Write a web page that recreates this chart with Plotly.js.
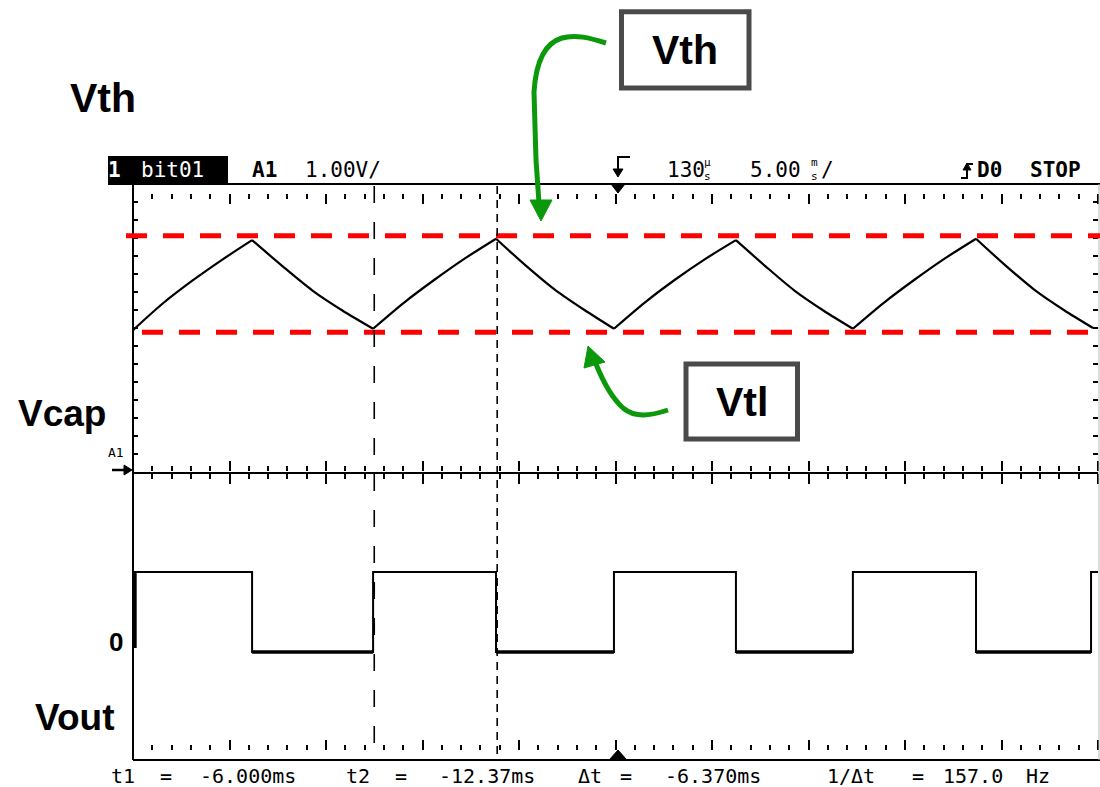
<!DOCTYPE html>
<html><head><meta charset="utf-8">
<script src="https://cdn.plot.ly/plotly-3.0.1.min.js"></script>
<style>html,body{margin:0;padding:0;background:#fff}#chart{width:1100px;height:787px}</style>
</head><body><div id="chart"></div>
<script>
// ---------------- DATA ----------------
// Vcap trace (channel A1, 1.00 V/div), time in ms
const vcapTimeMs = [
  -24.87, -23.33, -21.78, -20.24, -18.70,
  -17.13, -15.57, -14.00, -12.43,
  -10.84, -9.25, -7.65, -6.06,
  -4.53, -3.00, -1.48, 0.05,
  1.63, 3.21, 4.79, 6.37,
  7.89, 9.40, 10.92, 12.43,
  14.03, 15.62, 17.22, 18.81,
  20.33, 21.84, 23.36, 24.87
];
const vcapVolts = [
  1.97, 2.34, 2.66, 2.95, 3.22,
  2.86, 2.52, 2.24, 1.99,
  2.35, 2.67, 2.97, 3.24,
  2.87, 2.53, 2.25, 1.99,
  2.35, 2.67, 2.96, 3.22,
  2.86, 2.52, 2.24, 1.99,
  2.35, 2.67, 2.97, 3.24,
  2.87, 2.53, 2.25, 2.00
];
// indices in the Vcap arrays where the trace turns (valleys / peaks)
const vcapTurnIndex = [0, 4, 8, 12, 16, 20, 24, 28, 32];
// Vout (digital bit01): edge times (ms) and the level after each edge
const voutEdgeTimesMs = [-24.77, -18.70, -12.43, -6.06, 0.05, 6.37, 12.43, 18.81, 24.77];
const voutLevelAfterEdge = [1, 0, 1, 0, 1, 0, 1, 0, 1];
const voutStartLevel = 0.05;
// thresholds (V)
const vthVolts = 3.28;
const vtlVolts = 1.94;
// cursors (ms)
const cursorT1Ms = -6.000;
const cursorT2Ms = -12.37;
// screen time window (ms): 5.00 ms/div, 130 us delay
const timeRangeMs = [-24.87, 25.13];
const timeCenterMs = 0.13;
const msPerDiv = 5;
const voltsPerDiv = 1;
// texts
const headerTokens = ['1', 'bit01', 'A1', '1.00V/', '130', '5.00', '/', 'D0', 'STOP'];
const readoutTokens = ['t1', '=', '-6.000ms', 't2', '=', '-12.37ms', 'Δt', '=', '-6.370ms', '1/Δt', '=', '157.0', 'Hz'];
const sideLabels = ['Vth', 'Vcap', 'Vout', '0'];
const calloutLabels = ['Vth', 'Vtl'];

// ---------------- LAYOUT CONSTANTS (pixels) ----------------
const W = 1100, H = 787;
const fx = x => x / W, fy = y => 1 - y / H;
const plotL = 133, plotR = 1098, topY = 184, midY = 472, botY = 760;
const headerY = 170, readoutY = 776;
const headerCentersPx = [114, 172, 264, 343, 686, 775, 827, 989, 1055];
const headerBold = [true, false, true, false, false, false, false, true, true];
const headerColor = ['#fff', '#fff', '#000', '#000', '#000', '#000', '#000', '#000', '#000'];
const readoutCentersPx = [122.5, 166, 248, 357.5, 401, 486.5, 590, 626, 713, 851, 917.5, 973, 1037.5];
const sideLabelPos = [[103, 98, 41], [62, 413, 37], [74, 717, 37], [116, 642, 26]];
const calloutPos = [[685, 50], [742, 402]];
const mono = 'DejaVu Sans Mono, Liberation Mono, monospace';
const sans = 'Liberation Sans, Arial, sans-serif';
const green = '#0b990b';

// ---------------- TRACES ----------------
const traces = [];
// Vcap: one smooth piece per charge / discharge half-cycle, sharp at the turns
for (let k = 0; k + 1 < vcapTurnIndex.length; k++) {
  const a = vcapTurnIndex[k], b = vcapTurnIndex[k + 1] + 1;
  traces.push({type: 'scatter', mode: 'lines', x: vcapTimeMs.slice(a, b), y: vcapVolts.slice(a, b),
    xaxis: 'x', yaxis: 'y', line: {color: '#000', width: 2.2, shape: 'spline', smoothing: 0.8},
    hoverinfo: 'skip', showlegend: false});
}
const voutT = [timeRangeMs[0] + 0.1], voutV = [voutStartLevel];
const lowT = [], lowV = [];
let prev = voutStartLevel;
voutEdgeTimesMs.forEach((t, i) => {
  voutT.push(t, t); voutV.push(prev, voutLevelAfterEdge[i]);
  prev = voutLevelAfterEdge[i];
});
voutT.push(timeRangeMs[1]); voutV.push(prev);
voutEdgeTimesMs.forEach((t, i) => {
  if (voutLevelAfterEdge[i] === 0) {
    const tEnd = i + 1 < voutEdgeTimesMs.length ? voutEdgeTimesMs[i + 1] : timeRangeMs[1];
    lowT.push(t, tEnd, null); lowV.push(0, 0, null);
  }
});
traces.push(
  {type: 'scatter', mode: 'lines', x: voutT, y: voutV, xaxis: 'x2', yaxis: 'y2',
   line: {color: '#000', width: 2}, hoverinfo: 'skip', showlegend: false},
  {type: 'scatter', mode: 'lines', x: lowT, y: lowV, xaxis: 'x2', yaxis: 'y2',
   line: {color: '#000', width: 3.5}, hoverinfo: 'skip', showlegend: false, connectgaps: false},
  {type: 'scatter', mode: 'lines', x: [voutEdgeTimesMs[0], voutEdgeTimesMs[0]], y: [voutStartLevel, voutLevelAfterEdge[0]],
   xaxis: 'x2', yaxis: 'y2', line: {color: '#000', width: 3.5}, hoverinfo: 'skip', showlegend: false},
  {type: 'scatter', mode: 'lines', x: [null], y: [null], xaxis: 'x3', yaxis: 'y', hoverinfo: 'skip', showlegend: false},
  {type: 'scatter', mode: 'lines', x: [null], y: [null], xaxis: 'x4', yaxis: 'y', hoverinfo: 'skip', showlegend: false}
);

// ---------------- AXES ----------------
const baseX = {
  domain: [fx(plotL), fx(plotR)], range: timeRangeMs, showgrid: false, zeroline: false,
  showticklabels: false, tickmode: 'linear', tick0: timeCenterMs, dtick: msPerDiv,
  ticklen: 10, tickwidth: 2, tickcolor: '#000', fixedrange: true,
  minor: {tickmode: 'linear', tick0: timeCenterMs, dtick: msPerDiv / 5, ticklen: 5, tickwidth: 2,
          tickcolor: '#000', ticks: 'outside', showgrid: false}
};
const layout = {
  width: W, height: H, margin: {l: 0, r: 0, t: 0, b: 0},
  paper_bgcolor: '#fff', plot_bgcolor: 'rgba(0,0,0,0)', showlegend: false,
  xaxis: Object.assign({}, baseX, {anchor: 'y', ticks: 'outside', showline: true, linewidth: 2, linecolor: '#000'}),
  xaxis2: Object.assign({}, baseX, {anchor: 'y2', side: 'top', ticks: 'outside', showline: false}),
  xaxis3: Object.assign({}, baseX, {anchor: 'free', overlaying: 'x', position: fy(193), side: 'bottom', ticks: 'outside', showline: false}),
  xaxis4: Object.assign({}, baseX, {anchor: 'free', overlaying: 'x', position: fy(750), side: 'top', ticks: 'outside', showline: false}),
  yaxis: {domain: [fy(midY), fy(topY)], range: [0, 4 * voltsPerDiv], anchor: 'x', showgrid: false, zeroline: false,
          showticklabels: false, ticks: 'inside', tickmode: 'linear', tick0: 0, dtick: voltsPerDiv / 4,
          ticklen: 5, tickwidth: 2, tickcolor: '#000', mirror: 'ticks', showline: false, fixedrange: true},
  yaxis2: {domain: [fy(botY), fy(midY)], range: [-1.35, 2.25], anchor: 'x2', showgrid: false, zeroline: false,
           showticklabels: false, ticks: '', showline: false, fixedrange: true},
  shapes: [], annotations: []
};

// ---------------- SHAPES ----------------
const S = layout.shapes;
const pline = (x0, y0, x1, y1, color, width, dash) => S.push({type: 'line', xref: 'paper', yref: 'paper',
  x0: fx(x0), y0: fy(y0), x1: fx(x1), y1: fy(y1), line: {color: color, width: width, dash: dash || 'solid'}});
const ppath = (pts, close, color, width, fill) => {
  const d = pts.map(p => typeof p === 'string' ? p : (p[0] / W) + ',' + (1 - p[1] / H)).join(' ');
  S.push({type: 'path', xref: 'paper', yref: 'paper', path: d + (close ? ' Z' : ''),
          line: {color: color, width: width}, fillcolor: fill || 'rgba(0,0,0,0)'});
};
// frame
pline(plotL, topY, plotL, botY, '#000', 2);
pline(108, topY, 1100, topY, '#000', 2);
pline(plotL, botY, 1100, botY, '#000', 2);
pline(1099, topY, 1099, botY, '#bbbbbb', 1);
// header black box
S.push({type: 'rect', xref: 'paper', yref: 'paper', x0: fx(108), x1: fx(228), y0: fy(184), y1: fy(156),
        fillcolor: '#000', line: {width: 0}, layer: 'below'});
// threshold lines
S.push({type: 'line', xref: 'paper', yref: 'y', x0: fx(126), x1: 1, y0: vthVolts, y1: vthVolts,
        line: {color: '#ff0000', width: 5, dash: '21px,16px'}});
S.push({type: 'line', xref: 'paper', yref: 'y', x0: fx(142), x1: 1, y0: vtlVolts, y1: vtlVolts,
        line: {color: '#ff0000', width: 5, dash: '21px,16px'}});
// cursors
S.push({type: 'line', xref: 'x', yref: 'paper', x0: cursorT2Ms, x1: cursorT2Ms, y0: fy(186), y1: fy(758),
        line: {color: '#000', width: 1.6, dash: '17px,19px'}});
S.push({type: 'line', xref: 'x', yref: 'paper', x0: cursorT1Ms, x1: cursorT1Ms, y0: fy(186), y1: fy(758),
        line: {color: '#000', width: 1.6, dash: '8px,6px'}});
// trigger markers
ppath(['M', [630, 157], 'L', [618, 157], 'L', [618, 171]], false, '#000', 2);
ppath(['M', [613, 169], 'L', [623, 169], 'L', [618, 177]], true, '#000', 1, '#000');
ppath(['M', [611, 184], 'L', [625, 184], 'L', [618, 193]], true, '#000', 1, '#000');
ppath(['M', [610, 759], 'L', [626, 759], 'L', [618, 750]], true, '#000', 1, '#000');
// D0 edge glyph
ppath(['M', [961, 178], 'L', [967, 178], 'L', [967, 164], 'L', [973, 164]], false, '#000', 2);
ppath(['M', [963, 170], 'L', [971, 170], 'L', [967, 163]], true, '#000', 1, '#000');
// A1 ground marker
pline(112, 470, 126, 470, '#000', 2.5);
ppath(['M', [124, 465], 'L', [132, 470], 'L', [124, 475]], true, '#000', 1, '#000');
// callout boxes
S.push({type: 'rect', xref: 'paper', yref: 'paper', x0: fx(621.5), x1: fx(749), y0: fy(88), y1: fy(11.7),
        fillcolor: '#fff', line: {color: '#4a4a4a', width: 5}});
S.push({type: 'rect', xref: 'paper', yref: 'paper', x0: fx(686), x1: fx(797.5), y0: fy(439), y1: fy(364),
        fillcolor: '#fff', line: {color: '#4a4a4a', width: 5}});
// green arrows
ppath(['M', [606, 43], 'C', [590, 38], [575, 34], [562, 38], 'C', [545, 43], [536, 60], [534, 92], 'L', [536, 160], 'L', [539, 203]], false, green, 5);
ppath(['M', [530, 200], 'L', [552, 200], 'L', [541, 221]], true, green, 1, green);
ppath(['M', [668, 410], 'C', [650, 416], [635, 418], [623, 408], 'C', [612, 398], [604, 384], [596, 364]], false, green, 5);
ppath(['M', [588, 346], 'L', [584, 368], 'L', [605, 362]], true, green, 1, green);

// ---------------- ANNOTATIONS ----------------
const A = layout.annotations;
const txt = (text, x, y, size, family, color, bold) => A.push({
  xref: 'paper', yref: 'paper', x: fx(x), y: fy(y), xanchor: 'center', yanchor: 'middle', showarrow: false,
  text: bold ? '<b>' + text + '</b>' : text, font: {family: family, size: size, color: color || '#000'}});
headerTokens.forEach((t, i) => txt(t, headerCentersPx[i], headerY, 21, mono, headerColor[i], headerBold[i]));
txt('µ', 707, 163, 11, mono); txt('s', 707, 176, 11, mono);
txt('m', 814, 163, 11, mono); txt('s', 814, 176, 11, mono);
readoutTokens.forEach((t, i) => txt(t, readoutCentersPx[i], readoutY, 20, mono));
txt('A1', 116, 452, 13, mono);
sideLabels.forEach((t, i) => txt(t, sideLabelPos[i][0], sideLabelPos[i][1], sideLabelPos[i][2], sans, '#000', true));
calloutLabels.forEach((t, i) => txt(t, calloutPos[i][0], calloutPos[i][1], 41, sans, '#000', true));

Plotly.newPlot('chart', traces, layout, {staticPlot: true, displayModeBar: false});
</script>
</body></html>
